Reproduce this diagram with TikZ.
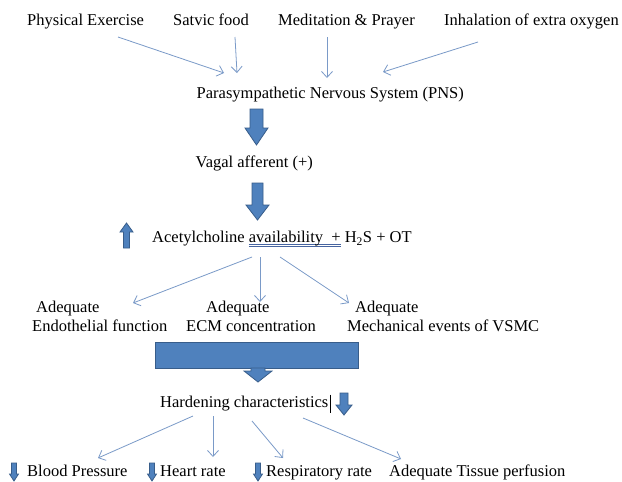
\documentclass[tikz,border=0pt]{standalone}
\usepackage{fontspec}
\setmainfont{Liberation Serif}
\usetikzlibrary{arrows.meta}
\definecolor{lnk}{RGB}{122,154,200}
\definecolor{blk}{RGB}{79,129,189}
\definecolor{blkedge}{RGB}{56,93,138}
\definecolor{ulcol}{RGB}{70,100,160}
\newcommand{\myuul}[1]{\sbox0{#1}\rlap{\textcolor{ulcol}{\rule[-2.2pt]{\wd0}{0.6pt}}}\rlap{\textcolor{ulcol}{\rule[-4.2pt]{\wd0}{0.6pt}}}\usebox0}
\tikzset{
  txt/.style={inner sep=0pt, font=\fontsize{16.5}{19}\selectfont, anchor=base west},
  txtml/.style={inner sep=0pt, font=\fontsize{16.5}{19}\selectfont, anchor=north west, align=left},
  lnkarrow/.style={draw=lnk, line width=0.8pt, -{Straight Barb[length=6pt,width=11pt]}},
  blockshape/.style={fill=blk, draw=blkedge, line width=0.8pt, line join=miter},
}
\begin{document}
\begin{tikzpicture}[x=1pt,y=-1pt]
\useasboundingbox[fill=white] (0,0) rectangle (622,482);
% top row
\node[txt] (pe) at (27,25.5) {Physical Exercise};
\node[txt] (sf) at (173,25.5) {Satvic food};
\node[txt] (mp) at (278,25.5) {Meditation \& Prayer};
\node[txt] (io) at (444,25.5) {Inhalation of extra oxygen};
\node[txt] (pns) at (196.5,98.5) {Parasympathetic Nervous System (PNS)};
\draw[lnkarrow] ([shift={(91,11.5)}]pe.base west) -- ([shift={(27.5,-25.5)}]pns.base west);
\draw[lnkarrow] ([shift={(62,11.5)}]sf.base west) -- ([shift={(40.5,-25.5)}]pns.base west);
\draw[lnkarrow] ([shift={(49,11.5)}]mp.base west) -- ([shift={(130.5,-20.5)}]pns.base west);
\draw[lnkarrow] ([shift={(34,16.5)}]io.base west) -- ([shift={(186.5,-26.5)}]pns.base west);
% block arrow 1
\path[blockshape] (250,109) -- (263,109) -- (263,128) -- (268,128) -- (256.5,145) -- (245,128) -- (250,128) -- cycle;
\node[txt] (vag) at (195.5,167.5) {Vagal afferent (+)};
% block arrow 2
\path[blockshape] (252,183) -- (263,183) -- (263,205) -- (269,205) -- (257.5,220) -- (246,205) -- (252,205) -- cycle;
% up arrow
\path[blockshape] (123.5,248) -- (129.5,248) -- (129.5,232) -- (133,232) -- (126.5,223) -- (120,232) -- (123.5,232) -- cycle;
\node[txt] (ach) at (152,242.5) {Acetylcholine \myuul{availability\ \ +} H\textsubscript{2}S + OT};
% adequate row
\node[txtml] (ef) at (32,300.7) {\hspace*{4pt}Adequate\\Endothelial function};
\node[txtml] (ecm) at (186,300.7) {\hspace*{20pt}Adequate\\ECM concentration};
\node[txtml] (mv) at (347,300.7) {\hspace*{8pt}Adequate\\Mechanical events of VSMC};
\draw[lnkarrow] ([shift={(100,14.5)}]ach.base west) -- ([shift={(101,2.3)}]ef.north west);
\draw[lnkarrow] ([shift={(108,14.5)}]ach.base west) -- ([shift={(74,1.3)}]ecm.north west);
\draw[lnkarrow] ([shift={(128,14.5)}]ach.base west) -- ([shift={(2,2.3)}]mv.north west);
% big box
\node[blockshape, minimum width=203pt, minimum height=26pt, inner sep=0pt] (box) at (256.5,355) {};
\path[blockshape] (251,368) -- (265,368) -- (265,371) -- (272,371) -- (258,382) -- (244,371) -- (251,371) -- cycle;
% hardening
\node[txt] (hc) at (160,407.5) {Hardening characteristics};
\draw[black, line width=0.7pt] ([shift={(2,-13)}]hc.base east) -- ([shift={(2,5)}]hc.base east);
\path[blockshape] (340,393) -- (348,393) -- (348,405) -- (352,405) -- (344,415) -- (336,405) -- (340,405) -- cycle;
% bottom row
\node[txt] (bp) at (27,476.5) {Blood Pressure};
\node[txt] (hr) at (160,476.5) {Heart rate};
\node[txt] (rr) at (266,476.5) {Respiratory rate};
\node[txt] (tp) at (389,476.5) {Adequate Tissue perfusion};
\draw[lnkarrow] ([shift={(33,8.5)}]hc.base west) -- ([shift={(71,-18.5)}]bp.base west);
\draw[lnkarrow] ([shift={(53,8.5)}]hc.base west) -- ([shift={(53,-19.5)}]hr.base west);
\draw[lnkarrow] ([shift={(92,13.5)}]hc.base west) -- ([shift={(17,-18.5)}]rr.base west);
\draw[lnkarrow] ([shift={(143,10.5)}]hc.base west) -- ([shift={(12,-17.5)}]tp.base west);
% small down arrows
\path[blockshape] (11.5,463) -- (16.5,463) -- (16.5,474) -- (18.5,474) -- (14,481) -- (9.5,474) -- (11.5,474) -- cycle;
\path[blockshape] (149.5,463) -- (154.5,463) -- (154.5,474) -- (156.5,474) -- (152,481) -- (147.5,474) -- (149.5,474) -- cycle;
\path[blockshape] (255.5,463) -- (260.5,463) -- (260.5,474) -- (262.5,474) -- (258,481) -- (253.5,474) -- (255.5,474) -- cycle;
\end{tikzpicture}
\end{document}
